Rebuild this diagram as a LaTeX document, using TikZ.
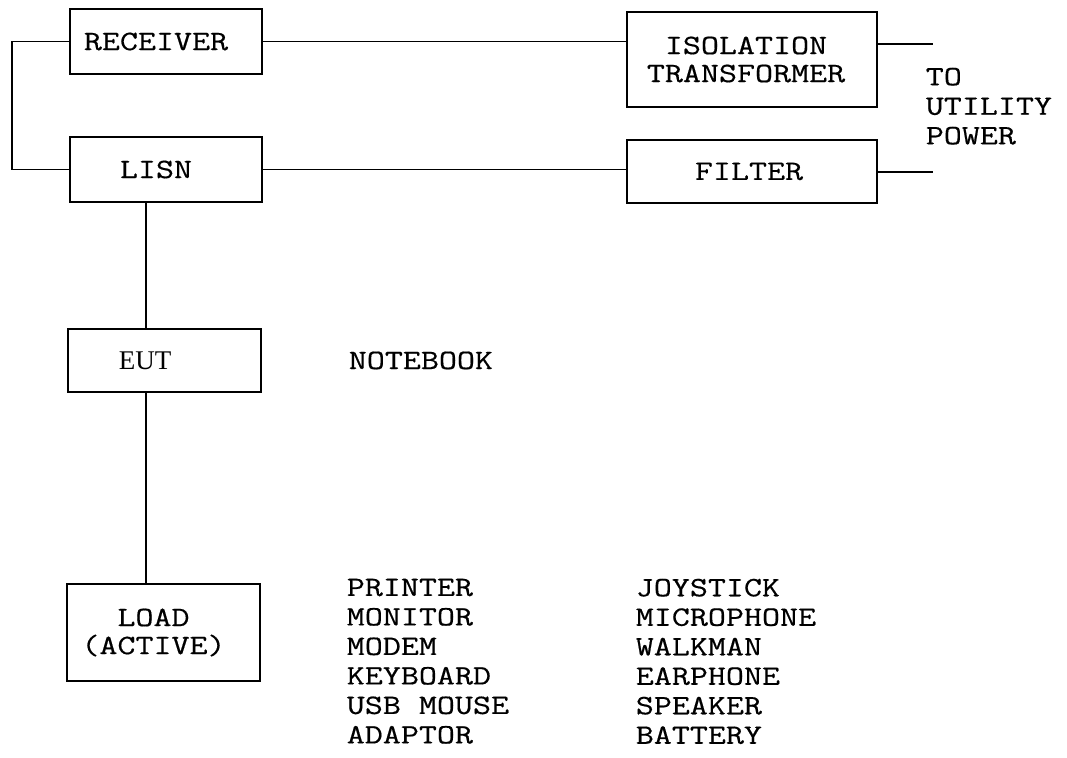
\documentclass[tikz,border=0pt]{standalone}
\usepackage{fontspec}
\newfontfamily\typew[FakeStretch=1.25,FakeBold=0.5]{Latin Modern Mono}
\newfontfamily\romfont{Liberation Serif}
\begin{document}
\begin{tikzpicture}[x=1pt,y=-1pt,line width=1.6pt,
  box/.style={draw, line width=1.6pt, inner sep=0pt, align=center,
    font=\typew\fontsize{28}{28}\selectfont},
  lbl/.style={inner sep=0pt, align=left, anchor=north west,
    font=\typew\fontsize{28}{29.5}\selectfont}]
\useasboundingbox (0,0) rectangle (1067,757);
% boxes
\node[box, minimum width=192pt, minimum height=65pt] (rec) at (166,41.5) {RECEIVER\hspace*{20pt}};
\node[box, minimum width=192pt, minimum height=65pt] (lisn) at (166,169.5) {LISN\hspace*{20pt}};
\node[box, minimum width=250pt, minimum height=95pt] (iso) at (752,59.5) {ISOLATION\hspace*{12pt}\\TRANSFORMER\hspace*{12pt}};
\node[box, minimum width=250pt, minimum height=63pt] (filter) at (752,171.5) {FILTER\hspace*{6pt}};
\node[box, minimum width=193pt, minimum height=63pt, font=\romfont\fontsize{27}{30}\selectfont] (eut) at (164.5,360.5) {EUT\hspace*{39pt}};
\node[box, minimum width=193pt, minimum height=97pt] (load) at (163.5,632.5) {LOAD\hspace*{20pt}\\(ACTIVE)\hspace*{20pt}};
% helper coordinates
\coordinate (lft) at (12,41.5);
\coordinate (spine) at (146,0);
\coordinate (pwrA) at (933,44);
\coordinate (pwrB) at (933,172);
% connectors
\draw (rec.west) -- (rec.west -| lft) |- (lisn.west);
\draw (rec.east) -- (rec.east -| iso.west);
\draw (lisn.east) -- (lisn.east -| filter.west);
\draw (pwrA -| iso.east) -- (pwrA);
\draw (pwrB -| filter.east) -- (pwrB);
\draw (lisn.south -| spine) -- (eut.north -| spine);
\draw (eut.south -| spine) -- (load.north -| spine);
% free texts
\node[lbl] (utility) at (925,67) {TO\\UTILITY\\POWER};
\node[lbl, anchor=base west] (notebook) at (348,369) {NOTEBOOK};
\node[lbl] (listA) at (346,578) {PRINTER\\MONITOR\\MODEM\\KEYBOARD\\USB MOUSE\\ADAPTOR};
\node[lbl] (listB) at (635,578) {JOYSTICK\\MICROPHONE\\WALKMAN\\EARPHONE\\SPEAKER\\BATTERY};
\end{tikzpicture}
\end{document}
